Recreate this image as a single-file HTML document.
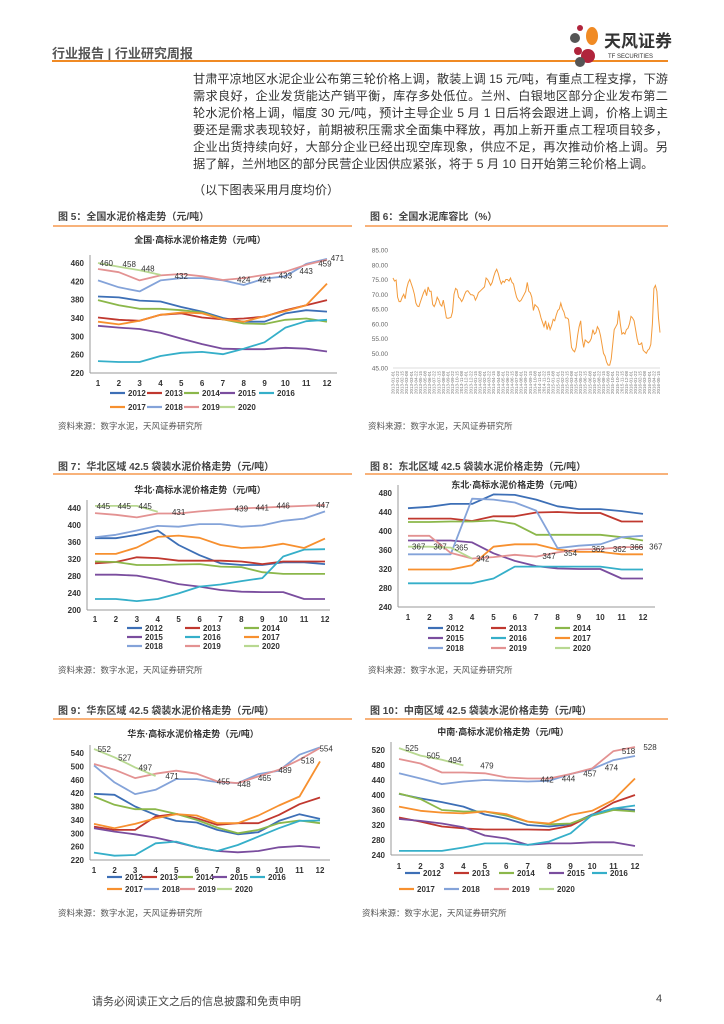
<!DOCTYPE html>
<html><head><meta charset="utf-8">
<style>
html,body{margin:0;padding:0;background:#fff;}
body{width:724px;height:1024px;position:relative;overflow:hidden;font-family:"Liberation Sans","Noto Sans CJK SC",sans-serif;color:#333;}
.abs{position:absolute;}
.body-line{position:absolute;left:193px;width:475px;font-size:12.2px;line-height:17px;white-space:nowrap;text-align:justify;text-align-last:justify;color:#333;}
.fig-title{position:absolute;font-size:10px;font-weight:bold;color:#444;}
.src{position:absolute;font-size:8.5px;color:#555;}
.oline{position:absolute;height:2px;background:#f8b27a;}
</style></head><body>
<div class="abs" style="left:52px;top:43px;font-size:13px;font-weight:bold;color:#555;">行业报告 | 行业研究周报</div>
<div class="abs" style="left:52px;top:60px;width:616px;height:2px;background:#f08a24;"></div>
<svg class="abs" style="left:566px;top:18px" width="110" height="50">
<circle cx="14" cy="10" r="3" fill="#b0243c"/><circle cx="9" cy="20" r="5" fill="#555"/><ellipse cx="26" cy="18" rx="6" ry="9" fill="#f08a24"/><circle cx="12" cy="33" r="4" fill="#b0243c"/><circle cx="22" cy="38" r="7" fill="#b0243c"/><circle cx="14" cy="44" r="5" fill="#555"/>
<text x="38" y="29" font-size="17" font-weight="bold" fill="#333" font-family="Liberation Sans, Noto Sans CJK SC, sans-serif">天风证券</text>
<text x="42" y="40" font-size="6" fill="#333" font-family="Liberation Sans, sans-serif">TF SECURITIES</text>
</svg>
<div class="body-line" style="top:71px">甘肃平凉地区水泥企业公布第三轮价格上调，散装上调 15 元/吨，有重点工程支撑，下游</div>
<div class="body-line" style="top:88px">需求良好，企业发货能达产销平衡，库存多处低位。兰州、白银地区部分企业发布第二</div>
<div class="body-line" style="top:105px">轮水泥价格上调，幅度 30 元/吨，预计主导企业 5 月 1 日后将会跟进上调，价格上调主</div>
<div class="body-line" style="top:122px">要还是需求表现较好，前期被积压需求全面集中释放，再加上新开重点工程项目较多，</div>
<div class="body-line" style="top:139px">企业出货持续向好，大部分企业已经出现空库现象，供应不足，再次推动价格上调。另</div>
<div class="body-line" style="top:156px;text-align-last:left">据了解，兰州地区的部分民营企业因供应紧张，将于 5 月 10 日开始第三轮价格上调。</div>
<div class="body-line" style="top:182px;text-align-last:left">（以下图表采用月度均价）</div>

<div class="fig-title" style="left:58px;top:208px">图 5：全国水泥价格走势（元/吨）</div>
<div class="fig-title" style="left:370px;top:208px">图 6：全国水泥库容比（%）</div>
<div class="oline" style="left:53px;top:225px;width:299px"></div>
<div class="oline" style="left:365px;top:225px;width:303px"></div>
<div class="fig-title" style="left:58px;top:458px">图 7：华北区域 42.5 袋装水泥价格走势（元/吨）</div>
<div class="fig-title" style="left:370px;top:458px">图 8：东北区域 42.5 袋装水泥价格走势（元/吨）</div>
<div class="oline" style="left:53px;top:473px;width:299px"></div>
<div class="oline" style="left:365px;top:473px;width:303px"></div>
<div class="fig-title" style="left:58px;top:702px">图 9：华东区域 42.5 袋装水泥价格走势（元/吨）</div>
<div class="fig-title" style="left:370px;top:702px">图 10：中南区域 42.5 袋装水泥价格走势（元/吨）</div>
<div class="oline" style="left:53px;top:718px;width:299px"></div>
<div class="oline" style="left:365px;top:718px;width:303px"></div>

<div class="src" style="left:58px;top:420px">资料来源：数字水泥，天风证券研究所</div>
<div class="src" style="left:368px;top:420px">资料来源：数字水泥，天风证券研究所</div>
<div class="src" style="left:58px;top:664px">资料来源：数字水泥，天风证券研究所</div>
<div class="src" style="left:368px;top:664px">资料来源：数字水泥，天风证券研究所</div>
<div class="src" style="left:58px;top:907px">资料来源：数字水泥，天风证券研究所</div>
<div class="src" style="left:362px;top:907px">资料来源：数字水泥，天风证券研究所</div>

<div class="abs" style="left:92px;top:993px;font-size:11px;color:#444">请务必阅读正文之后的信息披露和免责申明</div>
<div class="abs" style="left:656px;top:993px;font-size:11px;color:#444">4</div>

<svg id="charts" class="abs" style="left:0;top:0" width="724" height="1024"></svg>

<script>
const years = ["2012","2013","2014","2015","2016","2017","2018","2019","2020"];
const months = [1,2,3,4,5,6,7,8,9,10,11,12];
// Fig 5 national
const nat2012=[387,385,378,376,364,354,340,332,332,350,357,354];
const nat2013=[341,336,334,347,350,341,337,339,343,357,368,379];
const nat2014=[379,368,360,360,357,352,337,328,327,336,339,332];
const nat2015=[323,319,316,308,295,283,273,272,272,275,273,267];
const nat2016=[246,244,244,257,264,266,261,273,287,319,333,336];
const nat2017=[332,326,334,347,352,350,337,332,344,355,368,415];
const nat2018=[422,407,398,422,427,427,422,412,426,431,458,469];
const nat2019=[447,440,422,433,436,431,423,427,434,441,456,467];
const nat2020=[460,452,444,434];
const natLabelX=[1.4,2.5,3.4,5,8,9,10,11,11.9,12.5];
const natLabelV=[460,458,448,432,424,424,433,443,459,471];
const natTicks=[220,260,300,340,380,420,460];
// Fig 7 north
const nor2012=[369,369,377,387,353,329,310,306,306,312,312,308];
const nor2013=[310,313,324,322,316,316,316,314,308,314,314,314];
const nor2014=[314,313,306,306,307,308,302,301,289,285,285,285];
const nor2015=[283,283,281,272,261,255,247,243,242,242,226,226];
const nor2016=[226,226,221,226,239,255,260,268,275,326,342,343];
const nor2017=[332,332,347,372,375,370,353,346,348,356,346,368];
const nor2018=[371,377,387,398,396,402,402,396,399,410,415,432];
const nor2019=[428,424,418,427,427,432,436,439,441,443,445,447];
const nor2020=[445,445,445,431];
const norLabelX=[1.4,2.4,3.4,5,8,9,10,11.9];
const norLabelV=[445,445,445,431,439,441,446,447];
const norTicks=[200,240,280,320,360,400,440];
// Fig 8 northeast
const ne2012=[448,451,457,457,477,476,466,452,446,446,442,436];
const ne2013=[426,426,426,421,431,431,439,440,438,438,420,420];
const ne2014=[419,419,420,420,422,415,392,392,392,392,387,380];
const ne2015=[380,380,380,376,353,337,326,321,320,320,300,300];
const ne2016=[290,290,290,290,300,325,325,325,325,325,319,319];
const ne2017=[319,319,319,328,367,372,372,361,356,356,351,351];
const ne2018=[351,351,351,468,466,460,443,364,369,372,387,390];
const ne2019=[390,390,354,342,345,350,346,355,361,362,366,366];
const ne2020=[367,367,365,342];
const neLabelX=[1.5,2.5,3.5,4.5,7.6,8.6,9.9,10.9,11.7,12.6];
const neLabelV=[367,367,365,342,347,354,362,362,366,367];
const neTicks=[240,280,320,360,400,440,480];
// Fig 9 east
const ea2012=[418,415,380,355,337,332,310,297,303,337,357,343];
const ea2013=[320,310,310,350,358,345,325,330,330,355,387,407];
const ea2014=[410,385,372,372,358,340,317,300,310,330,338,330];
const ea2015=[315,305,297,287,273,258,247,243,247,258,262,257];
const ea2016=[242,233,235,270,275,258,247,265,290,315,337,338];
const ea2017=[328,315,328,345,357,353,330,330,353,383,410,515];
const ea2018=[503,452,417,430,462,462,453,450,477,487,535,557];
const ea2019=[507,490,465,478,487,478,455,450,470,490,520,555];
const ea2020=[552,527,497,471];
const eaLabelX=[1.5,2.5,3.5,4.8,7.3,8.3,9.3,10.3,11.4,12.3];
const eaLabelV=[552,527,497,471,455,448,465,489,518,554];
const eaTicks=[220,260,300,340,380,420,460,500,540];
// Fig 10 central-south
const cs2012=[403,391,381,369,348,337,320,316,322,348,364,360];
const cs2013=[340,329,316,311,308,308,308,307,318,347,380,400];
const cs2014=[404,389,360,356,356,345,329,322,324,345,360,356];
const cs2015=[336,331,324,314,292,284,267,271,271,274,274,264];
const cs2016=[251,251,251,260,271,271,267,276,298,347,364,372];
const cs2017=[369,358,353,351,356,349,329,324,347,358,387,444];
const cs2018=[458,444,429,436,440,438,436,438,456,469,493,504];
const cs2019=[496,484,460,460,458,447,444,444,456,471,517,528];
const cs2020=[525,505,494,479];
const csLabelX=[1.6,2.6,3.6,5.1,7.9,8.9,9.9,10.9,11.7,12.7];
const csLabelV=[525,505,494,479,442,444,457,474,518,528];
const csTicks=[240,280,320,360,400,440,480,520];
// Fig 6 inventory ratio
const invValues=[75.5,74.5,74.8,69,67.5,67.5,69,70,68.5,72,74,75,73.5,72,70,67,66,65.8,67.5,69,70.5,71.5,69.5,72.5,71,71,66.5,65.8,67,69,68,66.5,66,68,65,62,61.8,62,62.2,64,70,72,71.5,69,68.5,67.5,68.5,70,71,71.2,70.5,69.8,69.8,69.5,68,69,70.5,71,71.5,72,72.5,75.5,75,74,73,74,76,77.5,78.5,77,75,73.5,74.5,74,75,75,74.5,75.5,74,73.5,71,69,68,67.5,68,69,70,71,74,71,70.5,69,64.5,66.5,66,65.5,64,62,60.5,59,61,58,60,58,59.5,61.5,61,63,64.5,65,67,65,64,62,62,61.5,57,52,51,50.5,52,56,59,61,55,52,54.5,54,53.5,54,55,58,56.5,57,59,58,56,53,50,49,47,46,46,48,53,58,59,60,64.5,60,56.5,57,56.5,58,58.5,60,62.5,62,61,58,55,53,53,53.5,51,50.5,50,51,51.5,53,60,72,73,71,62,57];
const invTicks=[45,50,55,60,65,70,75,80,85];

const colors=["#3d6fb6","#c0382f","#8bb74a","#7a4d9e","#35afc9","#f7902f","#84a3d9","#e39292","#b8d891"];
const NS="http://www.w3.org/2000/svg";
const svg=document.getElementById("charts");
const FONT="Liberation Sans, Noto Sans CJK SC, sans-serif";
function el(tag,attrs,parent){const e=document.createElementNS(NS,tag);for(const k in attrs)e.setAttribute(k,attrs[k]);(parent||svg).appendChild(e);return e;}
function txt(x,y,s,size,anchor,fill,weight,parent){const t=el("text",{x:x,y:y,"font-size":size,"text-anchor":anchor||"start",fill:fill||"#333","font-family":FONT,"font-weight":weight||"normal"},parent);t.textContent=s;return t;}
function lin(a,b,c,d){return v=>c+(v-a)*(d-c)/(b-a);}

function lineChart(cfg){
  const g=el("g",{});
  
  
  const X=lin(1,12,cfg.x1,cfg.x12), Y=lin(cfg.ymin,cfg.ymax,cfg.yb,cfg.yt);
  const tt=txt(cfg.tx,cfg.ty,cfg.title,9,"middle","#333","bold",g);
  
  
  const ax=el("line",{x1:cfg.ax,y1:cfg.yt-8,x2:cfg.ax,y2:cfg.yb,stroke:"#999","stroke-width":1},g);
  
  
  const bx=el("line",{x1:cfg.ax,y1:cfg.yb,x2:cfg.right,y2:cfg.yb,stroke:"#999","stroke-width":1},g);
  
  
  cfg.ticks.forEach(v=>{const t=txt(cfg.ax-6,Y(v)+3,String(v),8,"end","#333","bold",g);
    
    });
  months.forEach(m=>{const t=txt(X(m),cfg.xly,String(m),8,"middle","#333","bold",g);
    
    });
  cfg.series.forEach((s,i)=>{
    const d=s.map((v,k)=>(k?"L":"M")+X(months[k]).toFixed(1)+","+Y(v).toFixed(1)).join("");
    const p=el("path",{d:d,fill:"none",stroke:colors[i],"stroke-width":1.8,"stroke-linejoin":"round"},g);
    
    
  });
  cfg.lx.forEach((m,i)=>{const t=txt(X(m),Y(cfg.lv[i])+3,String(cfg.lv[i]),8,"middle","#333","normal",g);
    
    });
  cfg.legend.forEach((it,i)=>{
    const l=el("line",{x1:it[0]-18,y1:it[1]-3,x2:it[0]-3,y2:it[1]-3,stroke:colors[i],"stroke-width":2.2},g);
    
    
    const t=txt(it[0],it[1],years[i],8,"start","#333","bold",g);
    
    
  });
}

lineChart({name:"fig5-chart",title:"全国·高标水泥价格走势（元/吨）",tx:200,ty:243,x1:98,x12:327,ax:90,right:337,ymin:220,ymax:460,yb:373,yt:263,xly:386,
 ticks:natTicks,series:[nat2012,nat2013,nat2014,nat2015,nat2016,nat2017,nat2018,nat2019,nat2020],lx:natLabelX,lv:natLabelV,
 legend:[[128,396],[165,396],[202,396],[238,396],[277,396],[128,410],[165,410],[202,410],[238,410]]});
lineChart({name:"fig7-chart",title:"华北·高标水泥价格走势（元/吨）",tx:200,ty:493,x1:95,x12:325,ax:87,right:330,ymin:200,ymax:440,yb:610,yt:508,xly:622,
 ticks:norTicks,series:[nor2012,nor2013,nor2014,nor2015,nor2016,nor2017,nor2018,nor2019,nor2020],lx:norLabelX,lv:norLabelV,
 legend:[[145,631],[203,631],[262,631],[145,640],[203,640],[262,640],[145,649],[203,649],[262,649]]});
lineChart({name:"fig8-chart",title:"东北·高标水泥价格走势（元/吨）",tx:517,ty:488,x1:408,x12:643,ax:398,right:655,ymin:240,ymax:480,yb:607,yt:493,xly:620,
 ticks:neTicks,series:[ne2012,ne2013,ne2014,ne2015,ne2016,ne2017,ne2018,ne2019,ne2020],lx:neLabelX,lv:neLabelV,
 legend:[[446,631],[509,631],[573,631],[446,641],[509,641],[573,641],[446,651],[509,651],[573,651]]});
lineChart({name:"fig9-chart",title:"华东·高标水泥价格走势（元/吨）",tx:193,ty:737,x1:94,x12:320,ax:90,right:330,ymin:220,ymax:540,yb:860,yt:753,xly:873,
 ticks:eaTicks,series:[ea2012,ea2013,ea2014,ea2015,ea2016,ea2017,ea2018,ea2019,ea2020],lx:eaLabelX,lv:eaLabelV,
 legend:[[125,880],[160,880],[196,880],[230,880],[268,880],[125,892],[162,892],[198,892],[235,892]]});
lineChart({name:"fig10-chart",title:"中南·高标水泥价格走势（元/吨）",tx:503,ty:735,x1:399,x12:635,ax:391,right:643,ymin:240,ymax:520,yb:855,yt:750,xly:869,
 ticks:csTicks,series:[cs2012,cs2013,cs2014,cs2015,cs2016,cs2017,cs2018,cs2019,cs2020],lx:csLabelX,lv:csLabelV,
 legend:[[423,876],[472,876],[517,876],[567,876],[610,876],[417,892],[462,892],[512,892],[557,892]]});

// Fig 6
(function(){
  const g=el("g",{});
  
  
  const X=lin(0,invValues.length-1,393,660), Y=lin(45,85,368,250);
  const b=el("line",{x1:393,y1:368,x2:660,y2:368,stroke:"#ddd","stroke-width":1},g);
  
  
  invTicks.forEach(v=>{const t=txt(388,Y(v)+2.5,v.toFixed(2),6.5,"end","#666","normal",g);
    
    });
  for(let i=0;i<invValues.length;i+=3){
    const yr=2013+Math.floor(i/52), wk=(i%52);
    const mo=String(1+Math.floor(wk/4.35)).padStart(2,"0"), dy=String(1+(wk*7)%28).padStart(2,"0");
    const t=txt(0,0,yr+"-"+mo+"-"+dy,4.5,"end","#777","normal",g);
    t.setAttribute("transform","translate("+(X(i)+1.5).toFixed(1)+",371) rotate(-90)");
    
    
  }
  const d=invValues.map((v,k)=>(k?"L":"M")+X(k).toFixed(1)+","+Y(v).toFixed(1)).join("");
  const p=el("path",{d:d,fill:"none",stroke:"#f39a3a","stroke-width":1},g);
  
  
})();
</script>
</body></html>
